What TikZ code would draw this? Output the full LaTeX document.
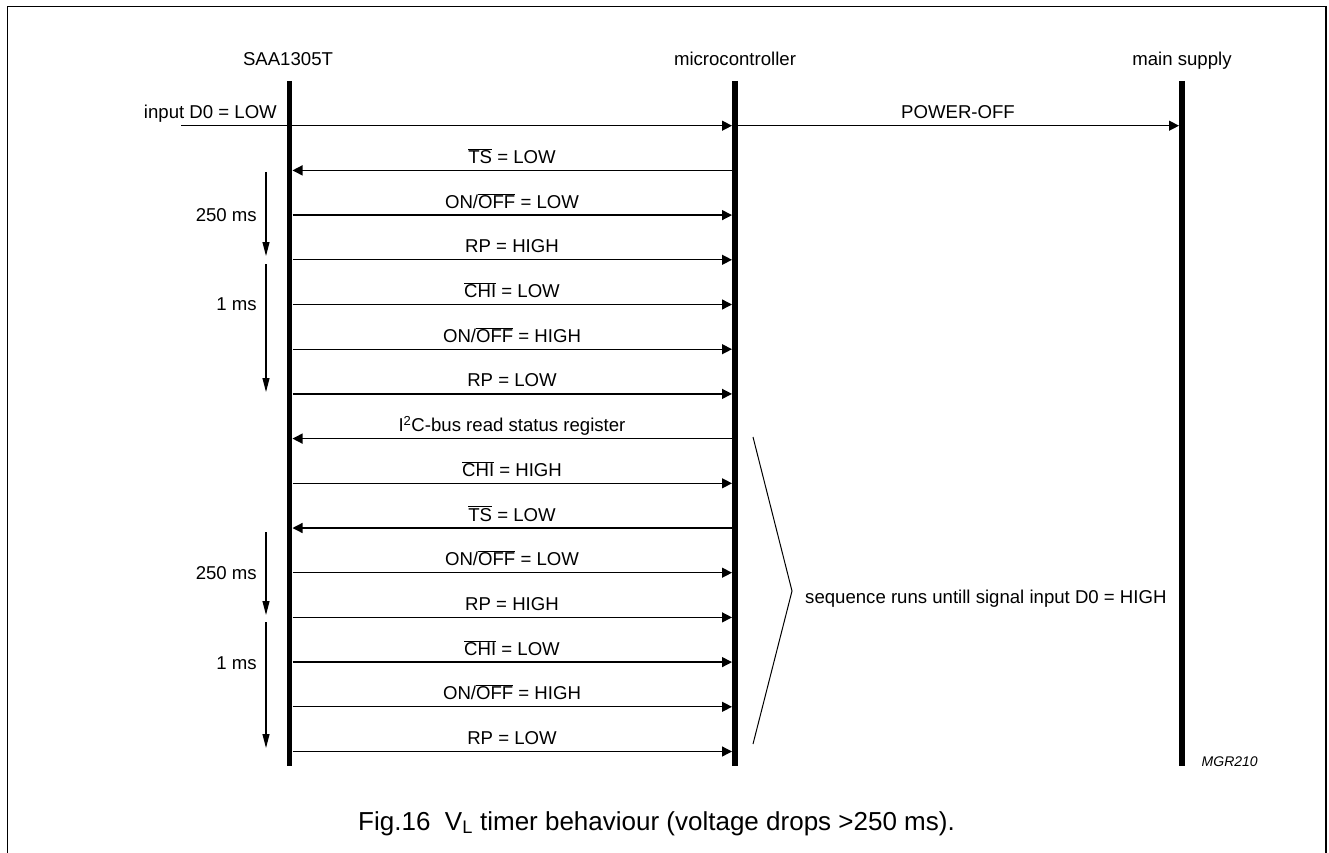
\documentclass[tikz,border=0pt]{standalone}
\usepackage{fontspec}
\setmainfont{Liberation Sans}
\usetikzlibrary{arrows.meta}
\newcommand\ovl[1]{\ensuremath{\overline{\mbox{#1}}}}
\begin{document}
\begin{tikzpicture}[x=1pt,y=-1pt,
  lbl/.style={anchor=base,inner sep=0pt,font=\fontsize{18.6}{22}\selectfont},
  life/.style={line width=5.8pt},
  msg/.style={line width=1.3pt,-{Triangle[length=10pt,width=10pt]}},
  tim/.style={line width=1.1pt,-{Triangle[length=14pt,width=7pt]}},
  frame/.style={line width=1.6pt}]
\useasboundingbox (0,0) rectangle (1329,853);
% frame
\draw[frame] (7.5,853) -- (7.5,6.5) -- (1326,6.5) -- (1326,853);
% lifelines
\coordinate (sT) at (289.5,81); \coordinate (sB) at (289.5,766);
\coordinate (mT) at (735,81); \coordinate (mB) at (735,766);
\coordinate (pT) at (1182,81); \coordinate (pB) at (1182,766);
\draw[life] (sT) -- (sB);
\draw[life] (mT) -- (mB);
\draw[life] (pT) -- (pB);
\node[lbl] (hs) at (288,66) {SAA1305T};
\node[lbl] (hm) at (735,66) {microcontroller};
\node[lbl] (hp) at (1182,66) {main supply};
% first row
\coordinate (in0) at (181,125.7);
\coordinate (m0) at (735,125.7);
\coordinate (p0) at (1182,125.7);
\draw[msg,shorten >=3pt] (in0) -- (m0);
\draw[msg,shorten >=3pt,shorten <=3pt] (m0) -- (p0);
\node[lbl,anchor=base east] (lin) at (277,119) {input D0 = LOW};
\node[lbl] (lpo) at (958,119) {POWER-OFF};
% messages
\foreach \i/\dir/\txt in {
  1/l/{\ovl{TS} = LOW},
  2/r/{ON/\ovl{OFF} = LOW},
  3/r/{RP = HIGH},
  4/r/{\ovl{CHI} = LOW},
  5/r/{ON/\ovl{OFF} = HIGH},
  6/r/{RP = LOW},
  7/l/{I\textsuperscript{2}C-bus read status register},
  8/r/{\ovl{CHI} = HIGH},
  9/l/{\ovl{TS} = LOW},
  10/r/{ON/\ovl{OFF} = LOW},
  11/r/{RP = HIGH},
  12/r/{\ovl{CHI} = LOW},
  13/r/{ON/\ovl{OFF} = HIGH},
  14/r/{RP = LOW}}{
  \pgfmathsetmacro\yy{125.7+\i*44.7}
  \coordinate (s\i) at (289.5,\yy);
  \coordinate (m\i) at (735,\yy);
  \if r\dir
    \draw[msg,shorten >=3pt,shorten <=3pt] (s\i) -- (m\i);
  \else
    \draw[msg,shorten >=3pt,shorten <=3pt] (m\i) -- (s\i);
  \fi
  \node[lbl] (l\i) at (512,\yy-7) {\txt};
}
% timing arrows
\coordinate (t1a) at (266,172); \coordinate (t1b) at (266,256);
\coordinate (t2a) at (266,264); \coordinate (t2b) at (266,392);
\coordinate (t3a) at (266,532); \coordinate (t3b) at (266,615);
\coordinate (t4a) at (266,622); \coordinate (t4b) at (266,748);
\draw[tim] (t1a) -- (t1b);
\draw[tim] (t2a) -- (t2b);
\draw[tim] (t3a) -- (t3b);
\draw[tim] (t4a) -- (t4b);
\node[lbl,anchor=base east] (d1) at (257,221.7) {250 ms};
\node[lbl,anchor=base east] (d2) at (257,310.5) {1 ms};
\node[lbl,anchor=base east] (d3) at (257,579.5) {250 ms};
\node[lbl,anchor=base east] (d4) at (257,669) {1 ms};
% bracket
\coordinate (bt) at (753,437);
\coordinate (bv) at (792,591);
\coordinate (bb) at (753,744);
\draw[line width=1pt] (bt) -- (bv) -- (bb);
\node[lbl,anchor=base west] (seq) at (805,603) {sequence runs untill signal input D0 = HIGH};
% code
\node[anchor=base west,inner sep=0pt,font=\fontsize{14}{16}\selectfont\itshape] (mgr) at (1201.5,766) {MGR210};
% caption
\node[anchor=base west,inner sep=0pt,font=\fontsize{26}{30}\selectfont] (cap) at (358,830) {Fig.16\ \ V\textsubscript{L} timer behaviour (voltage drops >250 ms).};
\end{tikzpicture}
\end{document}
